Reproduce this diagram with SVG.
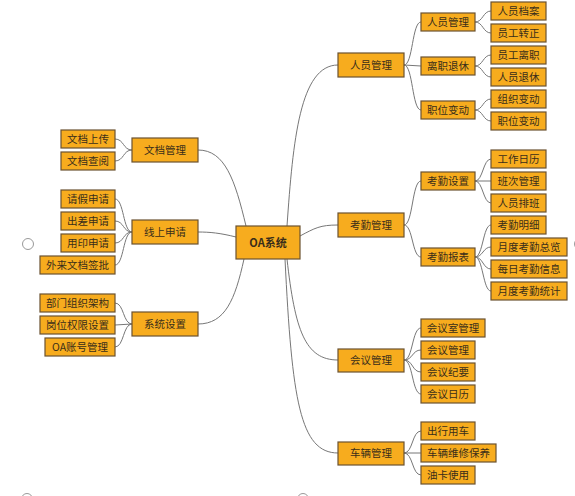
<svg xmlns="http://www.w3.org/2000/svg" width="575" height="496" viewBox="0 0 575 496">
<style>
.n rect{fill:#F7AC1E;stroke:#6B5230;stroke-width:1.2}
.n text{font-family:"Noto Sans CJK SC","Noto Sans",sans-serif;font-size:10.5px;fill:#3A2E1A;text-anchor:middle}
.c text{font-weight:bold;font-size:11px}
.e path{fill:none;stroke:#777;stroke-width:1}
.o{fill:none;stroke:#999;stroke-width:1}
</style>
<rect width="575" height="496" fill="#fff"/>
<g class="e" id="connectors">
<path d="M287,226 C293,140 300,65 338,65"/>
<path d="M300,236 C315,228 320,225 338,225"/>
<path d="M287,259 C295,330 305,360 338,360"/>
<path d="M285,259 C292,400 300,453 338,453"/>
<path d="M246,226 C235,180 225,150 198,150"/>
<path d="M236,237 C220,233 210,232 198,232"/>
<path d="M244,259 C235,300 225,324 198,324"/>
<path d="M404,65 C413,65 412,22 421,22"/>
<path d="M404,65 L421,66"/>
<path d="M404,65 C413,65 412,110 421,110"/>
<path d="M475,22 C483,22 483,11 491,11"/>
<path d="M475,22 C483,22 483,33 491,33"/>
<path d="M475,66 C483,66 483,55 491,55"/>
<path d="M475,66 C483,66 483,77 491,77"/>
<path d="M475,110 C483,110 483,99 491,99"/>
<path d="M475,110 C483,110 483,121 491,121"/>
<path d="M404,225 C413,225 412,181 421,181"/>
<path d="M404,225 C413,225 412,257 421,257"/>
<path d="M475,181 C483,181 483,159 491,159"/>
<path d="M475,181 L491,181"/>
<path d="M475,181 C483,181 483,203 491,203"/>
<path d="M475,257 C483,257 483,225 491,225"/>
<path d="M475,257 C483,257 483,247 491,247"/>
<path d="M475,257 C483,257 483,269 491,269"/>
<path d="M475,257 C483,257 483,291 491,291"/>
<path d="M404,360 C413,360 412,328 421,328"/>
<path d="M404,360 C413,360 412,350 421,350"/>
<path d="M404,360 C413,360 412,372 421,372"/>
<path d="M404,360 C413,360 412,394 421,394"/>
<path d="M404,453 C413,453 412,431 421,431"/>
<path d="M404,453 L421,453"/>
<path d="M404,453 C413,453 412,475 421,475"/>
<path d="M132,150 C123,150 124,139 115,139"/>
<path d="M132,150 C123,150 124,161 115,161"/>
<path d="M132,232 C123,232 124,199 115,199"/>
<path d="M132,232 C123,232 124,221 115,221"/>
<path d="M132,232 C123,232 124,243 115,243"/>
<path d="M132,232 C123,232 124,265 115,265"/>
<path d="M132,324 C123,324 124,303 115,303"/>
<path d="M132,324 L115,325"/>
<path d="M132,324 C123,324 124,347 115,347"/>
</g>
<g class="n c" id="root"><rect x="236" y="226" width="64" height="33"/><text x="268" y="246.5">OA系统</text></g>
<g class="n" id="n-rygl"><rect x="338" y="53" width="66" height="24"/><text x="371" y="68.5">人员管理</text></g>
<g class="n" id="n-kqgl"><rect x="338" y="213" width="66" height="24"/><text x="371" y="228.5">考勤管理</text></g>
<g class="n" id="n-hygl"><rect x="338" y="349" width="66" height="23"/><text x="371" y="364">会议管理</text></g>
<g class="n" id="n-clgl"><rect x="338" y="442" width="66" height="23"/><text x="371" y="457">车辆管理</text></g>
<g class="n" id="n-wdgl"><rect x="132" y="138" width="66" height="24"/><text x="165" y="153.5">文档管理</text></g>
<g class="n" id="n-xssq"><rect x="132" y="220" width="66" height="24"/><text x="165" y="235.5">线上申请</text></g>
<g class="n" id="n-xtsz"><rect x="132" y="312" width="66" height="24"/><text x="165" y="327.5">系统设置</text></g>
<g class="n" id="n-rygl2"><rect x="421" y="13" width="54" height="18"/><text x="448" y="25.5">人员管理</text></g>
<g class="n" id="n-lztx"><rect x="421" y="57" width="54" height="18"/><text x="448" y="69.5">离职退休</text></g>
<g class="n" id="n-zwbd"><rect x="421" y="101" width="54" height="18"/><text x="448" y="113.5">职位变动</text></g>
<g class="n" id="n-ryda"><rect x="491" y="2" width="55" height="18"/><text x="518.5" y="14.5">人员档案</text></g>
<g class="n" id="n-ygzz"><rect x="491" y="24" width="55" height="18"/><text x="518.5" y="36.5">员工转正</text></g>
<g class="n" id="n-yglz"><rect x="491" y="46" width="55" height="18"/><text x="518.5" y="58.5">员工离职</text></g>
<g class="n" id="n-rytx"><rect x="491" y="68" width="55" height="18"/><text x="518.5" y="80.5">人员退休</text></g>
<g class="n" id="n-zzbd"><rect x="491" y="90" width="55" height="18"/><text x="518.5" y="102.5">组织变动</text></g>
<g class="n" id="n-zwbd2"><rect x="491" y="112" width="55" height="18"/><text x="518.5" y="124.5">职位变动</text></g>
<g class="n" id="n-kqsz"><rect x="421" y="172" width="54" height="18"/><text x="448" y="184.5">考勤设置</text></g>
<g class="n" id="n-kqbb"><rect x="421" y="248" width="54" height="18"/><text x="448" y="260.5">考勤报表</text></g>
<g class="n" id="n-gzrl"><rect x="491" y="150" width="55" height="18"/><text x="518.5" y="162.5">工作日历</text></g>
<g class="n" id="n-bcgl"><rect x="491" y="172" width="55" height="18"/><text x="518.5" y="184.5">班次管理</text></g>
<g class="n" id="n-rypb"><rect x="491" y="194" width="55" height="18"/><text x="518.5" y="206.5">人员排班</text></g>
<g class="n" id="n-kqmx"><rect x="491" y="216" width="55" height="18"/><text x="518.5" y="228.5">考勤明细</text></g>
<g class="n" id="n-ydkqzl"><rect x="491" y="238" width="76" height="18"/><text x="529" y="250.5">月度考勤总览</text></g>
<g class="n" id="n-mrkqxx"><rect x="491" y="260" width="76" height="18"/><text x="529" y="272.5">每日考勤信息</text></g>
<g class="n" id="n-ydkqtj"><rect x="491" y="282" width="76" height="18"/><text x="529" y="294.5">月度考勤统计</text></g>
<g class="n" id="n-hysgl"><rect x="421" y="319" width="64" height="18"/><text x="453" y="331.5">会议室管理</text></g>
<g class="n" id="n-hygl2"><rect x="421" y="341" width="54" height="18"/><text x="448" y="353.5">会议管理</text></g>
<g class="n" id="n-hyjy"><rect x="421" y="363" width="54" height="18"/><text x="448" y="375.5">会议纪要</text></g>
<g class="n" id="n-hyrl"><rect x="421" y="385" width="54" height="18"/><text x="448" y="397.5">会议日历</text></g>
<g class="n" id="n-cxyc"><rect x="421" y="422" width="54" height="18"/><text x="448" y="434.5">出行用车</text></g>
<g class="n" id="n-clwxby"><rect x="421" y="444" width="75" height="18"/><text x="458.5" y="456.5">车辆维修保养</text></g>
<g class="n" id="n-yksy"><rect x="421" y="466" width="54" height="18"/><text x="448" y="478.5">油卡使用</text></g>
<g class="n" id="n-wdsc"><rect x="61" y="130" width="54" height="18"/><text x="88" y="142.5">文档上传</text></g>
<g class="n" id="n-wdcy"><rect x="61" y="152" width="54" height="18"/><text x="88" y="164.5">文档查阅</text></g>
<g class="n" id="n-qjsq"><rect x="61" y="190" width="54" height="18"/><text x="88" y="202.5">请假申请</text></g>
<g class="n" id="n-ccsq"><rect x="61" y="212" width="54" height="18"/><text x="88" y="224.5">出差申请</text></g>
<g class="n" id="n-yysq"><rect x="61" y="234" width="54" height="18"/><text x="88" y="246.5">用印申请</text></g>
<g class="n" id="n-wlwdqp"><rect x="40" y="256" width="75" height="18"/><text x="77.5" y="268.5">外来文档签批</text></g>
<g class="n" id="n-bmzzjg"><rect x="40" y="294" width="75" height="18"/><text x="77.5" y="306.5">部门组织架构</text></g>
<g class="n" id="n-gwqxsz"><rect x="40" y="316" width="75" height="18"/><text x="77.5" y="328.5">岗位权限设置</text></g>
<g class="n" id="n-oazhgl"><rect x="45" y="338" width="70" height="18"/><text x="80" y="350.5">OA账号管理</text></g>
<circle class="o" cx="28" cy="244" r="5.5"/>
<circle class="o" cx="27" cy="499" r="5.5"/>
<circle class="o" cx="303" cy="499" r="5.5"/>
<circle class="o" cx="580" cy="244" r="5.5"/>
</svg>
